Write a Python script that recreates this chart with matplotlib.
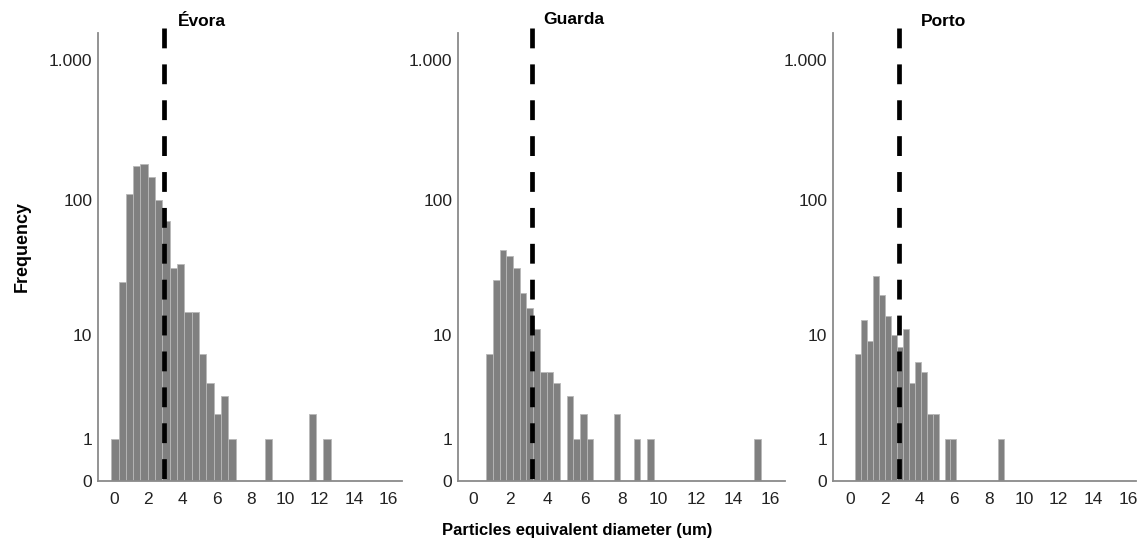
import numpy as np
import matplotlib
matplotlib.use("Agg")
import matplotlib.pyplot as plt

plt.rcParams['font.family'] = ['Liberation Sans', 'DejaVu Sans']

# ---- data ----
titles = ["Évora", "Guarda", "Porto"]

evora_counts = [1, 25, 109, 175, 181, 145, 99, 70, 32, 34, 15, 15, 7, 4, 2, 3, 1,
                0, 0, 0, 0, 1, 0, 0, 0, 0, 0, 2, 0, 1]
evora_bin_start = -0.17
evora_bin_width = 0.427
evora_mean = 2.9

guarda_counts = [7, 26, 43, 39, 32, 21, 16, 11, 5, 5, 4, 0, 3, 1, 2, 1,
                 0, 0, 0, 2, 0, 0, 1, 0, 1,
                 0, 0, 0, 0, 0, 0, 0, 0, 0, 0, 0, 0, 0, 0, 0, 1]
guarda_bin_start = 0.70
guarda_bin_width = 0.361
guarda_mean = 3.18

porto_counts = [7, 13, 9, 28, 20, 14, 10, 8, 11, 4, 6, 5, 2, 2, 0, 1, 1,
                0, 0, 0, 0, 0, 0, 0, 1]
porto_bin_start = 0.29
porto_bin_width = 0.343
porto_mean = 2.8

y_ticks = [0, 1, 10, 100, 1000]
y_tick_labels = ["0", "1", "10", "100", "1.000"]
x_ticks = [0, 2, 4, 6, 8, 10, 12, 14, 16]

# ---- layout ----
W, H = 1137, 547
fig = plt.figure(figsize=(W / 100, H / 100), dpi=100)

def fwd(v):
    v = np.asarray(v, dtype=float)
    return np.log10(np.clip(v, 0, None) + 1.0)

def inv(t):
    return 10.0 ** np.asarray(t, dtype=float) - 1.0

bottom_px, top_px = 481, 33
ymax = 1550

panels = [
    dict(counts=evora_counts, start=evora_bin_start, width=evora_bin_width,
         mean=evora_mean, left=98, right=402, xlim=(-0.94, 16.8),
         title_x=178, title_y=22),
    dict(counts=guarda_counts, start=guarda_bin_start, width=guarda_bin_width,
         mean=guarda_mean, left=458, right=785, xlim=(-0.82, 16.8),
         title_x=543, title_y=19),
    dict(counts=porto_counts, start=porto_bin_start, width=porto_bin_width,
         mean=porto_mean, left=833, right=1136, xlim=(-0.98, 16.45),
         title_x=921, title_y=22),
]

axis_col = '#8a8a8a'
for title, p in zip(titles, panels):
    ax = fig.add_axes([p['left'] / W, 1 - bottom_px / H,
                       (p['right'] - p['left']) / W, (bottom_px - top_px) / H])
    ax.set_yscale('function', functions=(fwd, inv))
    ax.set_ylim(0, ymax)
    ax.set_xlim(*p['xlim'])
    counts = np.array(p['counts'], dtype=float)
    lefts = p['start'] + p['width'] * np.arange(len(counts))
    mask = counts > 0
    ax.bar(lefts[mask], counts[mask], width=p['width'], align='edge',
           color='#808080', edgecolor='#b8b8b8', linewidth=0.6, zorder=2)
    # dashed mean line from above the axes down to the baseline
    top_val = inv((bottom_px - 28) / (bottom_px - top_px) * fwd(ymax))
    ax.plot([p['mean'], p['mean']], [top_val, 0], color='black', lw=3.4,
            dashes=(4.2, 3.4), clip_on=False, zorder=3, solid_capstyle='butt',
            dash_capstyle='butt')
    for s in ['top', 'right']:
        ax.spines[s].set_visible(False)
    for s in ['left', 'bottom']:
        ax.spines[s].set_color(axis_col)
        ax.spines[s].set_linewidth(1.3)
    ax.set_yticks(y_ticks)
    ax.set_yticklabels(y_tick_labels)
    ax.yaxis.set_minor_locator(matplotlib.ticker.NullLocator())
    ax.set_xticks(x_ticks)
    ax.tick_params(axis='both', length=0, labelsize=12.5, colors='#222222')
    ax.tick_params(axis='y', pad=4)
    ax.tick_params(axis='x', pad=8)
    ax.patch.set_alpha(0)
    fig.text(p['title_x'] / W, 1 - p['title_y'] / H, title, ha='left', va='center',
             fontsize=12.5, fontweight='bold', color='black')

fig.text(22 / W, 1 - 246 / H, "Frequency", rotation=90, ha='center', va='center',
         fontsize=13, fontweight='bold')
fig.text(577 / W, 1 - 530 / H, "Particles equivalent diameter (um)", ha='center',
         va='center', fontsize=12, fontweight='bold')

fig.savefig("out.png", dpi=100)
